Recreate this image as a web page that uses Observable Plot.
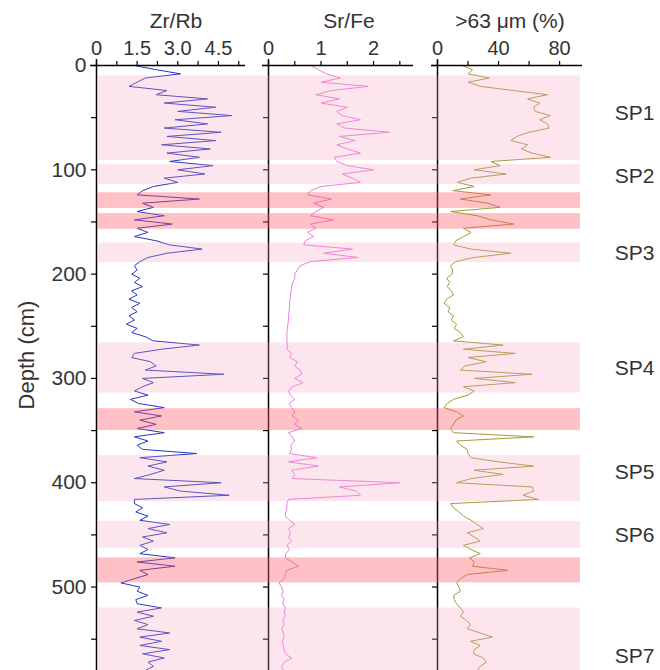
<!DOCTYPE html>
<html><head><meta charset="utf-8">
<script src="https://cdn.jsdelivr.net/npm/d3@7"></script>
<script src="https://cdn.jsdelivr.net/npm/@observablehq/plot@0.6"></script>
<style>
body{margin:0;background:#fff;}
#wrap{position:relative;width:660px;height:670px;overflow:hidden;font-family:"Liberation Sans",Arial,sans-serif;}
#wrap svg{position:absolute;top:0;}
</style></head><body><div id="wrap"></div>
<script>
// sampling depths (cm)
const depth = [
  0,4,8,12,16,20,24,28,32,36,
  40,44,48,52,56,60,64,68,72,76,
  80,84,88,92,96,100,104,108,112,116,
  120,124,128,132,136,140,144,148,152,156,
  160,164,168,172,176,180,184,188,192,196,
  200,204,208,212,216,220,224,228,232,236,
  240,244,248,252,256,260,264,268,272,276,
  280,284,288,292,296,300,304,308,312,316,
  320,324,328,332,336,340,344,348,352,356,
  360,364,368,372,376,380,384,388,392,396,
  400,404,408,412,416,420,424,428,432,436,
  440,444,448,452,456,460,464,468,472,476,
  480,484,488,492,496,500,504,508,512,516,
  520,524,528,532,536,540,544,548,552,556,
  560,564,568,572,576,580
];
const zrRb = [
  1.4,2.2,3.1,1.8,1.5,1.2,2.6,2.2,4.1,2.5,
  4.4,3.0,5.0,2.9,4.1,2.5,4.6,2.6,4.4,2.4,
  4.2,2.6,3.8,2.7,4.3,3.0,4.0,2.5,3.0,2.1,
  1.7,1.5,3.8,1.7,2.1,1.5,2.5,1.4,2.8,1.5,
  1.9,1.4,2.2,2.7,3.9,2.6,1.9,1.6,1.4,1.5,
  1.3,1.6,1.4,1.7,1.3,1.5,1.2,1.6,1.3,1.5,
  1.2,1.4,1.1,1.5,1.3,1.8,2.1,3.8,2.4,1.4,
  1.3,2.0,2.2,1.8,4.7,1.7,2.1,1.7,1.4,1.9,
  1.25,1.55,2.5,1.4,2.4,1.6,2.2,1.5,2.5,1.4,
  1.9,1.5,1.7,3.7,1.6,2.6,1.9,2.5,2.0,1.4,
  4.6,2.5,3.1,4.9,1.4,1.4,1.7,1.45,1.9,1.6,
  2.7,1.9,2.6,1.7,2.1,1.6,1.9,1.6,2.9,1.5,
  2.9,1.6,1.9,1.4,0.9,1.6,1.5,1.9,1.45,1.5,
  2.4,1.5,2.1,1.4,1.9,1.5,2.7,1.6,2.4,1.6,
  2.7,1.7,2.5,1.9,2.1,1.8
];
const srFe = [
  0.8,0.95,1.1,1.37,1.0,1.9,1.2,0.9,1.35,1.0,
  1.5,1.3,1.4,1.75,1.3,1.45,2.3,1.35,1.65,1.3,
  1.5,1.75,1.25,1.3,1.5,2.0,1.4,1.6,1.75,1.0,
  0.8,0.74,1.2,0.86,1.05,0.9,0.8,1.24,0.8,0.9,
  0.74,0.86,0.7,0.67,1.6,1.05,1.7,0.8,0.6,0.55,
  0.5,0.5,0.46,0.44,0.43,0.42,0.41,0.4,0.4,0.39,
  0.38,0.38,0.37,0.36,0.35,0.35,0.35,0.36,0.35,0.44,
  0.4,0.55,0.5,0.6,0.63,0.5,0.66,0.45,0.38,0.42,
  0.5,0.4,0.44,0.5,0.45,0.57,0.5,0.63,0.38,0.45,
  0.5,0.42,0.44,0.4,0.92,0.38,0.95,0.44,0.5,0.45,
  2.5,1.35,1.67,1.75,0.38,0.35,0.35,0.33,0.32,0.4,
  0.5,0.38,0.42,0.38,0.44,0.35,0.4,0.33,0.32,0.45,
  0.57,0.35,0.32,0.3,0.2,0.25,0.28,0.25,0.3,0.27,
  0.32,0.3,0.32,0.27,0.3,0.25,0.28,0.3,0.26,0.28,
  0.3,0.32,0.44,0.3,0.25,0.28
];
const sand = [
  16,23,20,34,20,28,50,72,59,67,
  63,64,74,67,72,73,60,52,48,59,
  55,62,74,35,41,24,45,22,13,24,
  10,35,15,33,41,8.5,26,35,50,17,
  22,17,12,10.5,22,48,24,12,8.5,10,
  9.6,6,8,6.4,9,10.5,6,4.3,8,7,
  10.5,9,12.5,11,15,17,10.5,43,17,51,
  20,32,18,15,62,24,51,17,24,20,
  10.5,6.4,4.3,12.5,17,12,10.5,8.5,10.5,63,
  12.5,15,19.5,20,22,40,63,24,43,22,
  12.5,62,63,56,66,8.5,10.5,14,17,22,
  26,30,19.5,24,28,17,22,28,21,24,
  23,46,19.5,15,12.5,14,15,10.5,11,12.5,
  15,17,15,19,21.6,19.5,28,36,21.6,28,
  24,23.7,30,32,28,26
];
// shaded intervals (cm)
const bandTop    = [10, 95, 122, 142, 170, 266, 329, 374, 437, 472, 520];
const bandBottom = [91, 114, 137, 157, 189, 314, 350, 418, 463, 496, 590];
const bandKind   = ["light","light","dark","dark","light","light","dark","light","light","dark","light"];
const unitNames  = ["SP1","SP2","SP3","SP4","SP5","SP6","SP7"];
const unitDepths = [46, 106, 180, 290, 390, 450, 566];
const depthTicks = [0,100,200,300,400,500];
const depthMinor = [50,150,250,350,450,550];

const FONT = '"Liberation Sans", Arial, sans-serif';
const TXT = "#333";
const H = 670, MT = 65, MB = 0;
const yScale = {domain: [0, 580], reverse: true};

const panels = [
  {title: "Zr/Rb", values: zrRb, domain: [0, 5.5], ticks: [0,1.5,3,4.5], minor: [0.75,2.25,3.75,5.25],
   fmt: d => d === 0 ? "0" : d.toFixed(1), color: "#2438c0", left: 0, width: 250, ml: 96, mr: 5, dx: 5, yLabels: true},
  {title: "Sr/Fe", values: srFe, domain: [0, 2.76], ticks: [0,1,2], minor: [0.5,1.5,2.5],
   fmt: d => String(d), color: "#ea7fe0", left: 250, width: 168, ml: 18, mr: 5, dx: 8, yLabels: false},
  {title: ">63 \u03bcm (%)", values: sand, domain: [0, 95], ticks: [0,40,80], minor: [20,60],
   fmt: d => String(d), color: "#a39b3a", left: 418, width: 242, ml: 19, mr: 78, dx: 0, yLabels: false}
];

const wrap = document.getElementById("wrap");

for (const p of panels) {
  const marks = [
    Plot.line(depth, {x: p.values, y: depth, stroke: p.color, strokeWidth: 1}),
    Plot.ruleY([0], {stroke: "black", strokeWidth: 1.5, insetLeft: -6}),
    Plot.ruleX([0], {stroke: "black", strokeWidth: 1.5, insetTop: -6}),
    Plot.axisX({anchor: "top", ticks: p.ticks, tickSize: 5, tickPadding: 6, tickFormat: p.fmt,
      fontSize: 20, fill: TXT, stroke: "black", strokeWidth: 1.2, label: null}),
    Plot.axisX({anchor: "top", ticks: p.minor, tickSize: 5, tickFormat: () => "",
      stroke: "black", strokeWidth: 1.2, label: null}),
    Plot.axisY({anchor: "left", ticks: depthTicks, tickSize: 5, tickPadding: 5,
      tickFormat: p.yLabels ? (d => String(d)) : (() => ""),
      fontSize: 21, fill: TXT, stroke: "black", strokeWidth: 1.2, label: null}),
    Plot.axisY({anchor: "left", ticks: depthMinor, tickSize: 5, tickFormat: () => "",
      stroke: "black", strokeWidth: 1.2, label: null}),
    Plot.text([p.title], {frameAnchor: "top", textAnchor: "middle", lineAnchor: "middle",
      dy: -44, dx: p.dx, fontSize: 21, fill: TXT})
  ];
  if (p.yLabels) {
    marks.push(Plot.text(["Depth (cm)"], {frameAnchor: "left", textAnchor: "middle", lineAnchor: "middle",
      dx: -70, dy: -13, rotate: -90, fontSize: 22, fill: TXT}));
  }
  const svg = Plot.plot({
    width: p.width, height: H,
    marginLeft: p.ml, marginRight: p.mr, marginTop: MT, marginBottom: MB,
    x: {domain: p.domain},
    y: yScale,
    style: {fontFamily: FONT, background: "white", overflow: "visible"},
    marks
  });
  svg.style.left = p.left + "px";
  wrap.appendChild(svg);
}

// translucent bands + unit labels, drawn over the three profiles
const idx = d3.range(bandTop.length);
const overlay = Plot.plot({
  width: 660, height: H,
  marginLeft: 97, marginRight: 80, marginTop: MT, marginBottom: MB,
  y: {...yScale, axis: null},
  style: {fontFamily: FONT, background: "transparent"},
  marks: [
    Plot.rect(idx.filter(i => bandKind[i] === "light"), {y1: i => bandTop[i], y2: i => bandBottom[i], fill: "#f9a0c0", fillOpacity: 0.28}),
    Plot.rect(idx.filter(i => bandKind[i] === "dark"), {y1: i => bandTop[i], y2: i => bandBottom[i], fill: "#ff5a6a", fillOpacity: 0.38}),
    Plot.text(unitNames, {y: unitDepths, frameAnchor: "right", textAnchor: "middle", dx: 54, fontSize: 21, fill: TXT})
  ]
});
overlay.style.left = "0px";
overlay.style.pointerEvents = "none";
wrap.appendChild(overlay);
</script>
</body></html>
